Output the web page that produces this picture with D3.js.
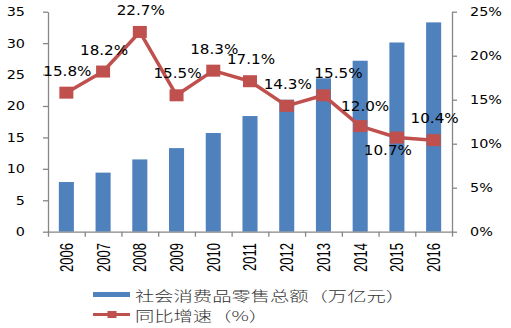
<!DOCTYPE html>
<html>
<head>
<meta charset="utf-8">
<script src="https://cdn.jsdelivr.net/npm/d3@7"></script>
<style>
  html, body { margin: 0; padding: 0; background: #fff; }
  svg { display: block; }
</style>
</head>
<body>
<div id="chart"></div>
<script>
// Retail sales of consumer goods (trillion yuan) and year-on-year growth (%)
const years = ["2006", "2007", "2008", "2009", "2010", "2011", "2012", "2013", "2014", "2015", "2016"];
const retailSales = [7.9, 9.4, 11.5, 13.3, 15.7, 18.4, 21.0, 24.4, 27.2, 30.1, 33.3];
const growthRate = [15.8, 18.2, 22.7, 15.5, 18.3, 17.1, 14.3, 15.5, 12.0, 10.7, 10.4];
const leftTicks = [0, 5, 10, 15, 20, 25, 30, 35];
const rightTicks = [0, 5, 10, 15, 20, 25];
const legendLabels = ["社会消费品零售总额（万亿元）", "同比增速（%）"];

const W = 511, H = 328;
const plot = { left: 48, right: 452, top: 11.7, bottom: 231.7 };
const barColor = "#4F81BD", lineColor = "#C0504D", axisColor = "#868686";
const numFont = "'DejaVu Sans', Verdana, sans-serif";

const svg = d3.select("#chart").append("svg").attr("width", W).attr("height", H);

const x = d3.scaleBand().domain(years).range([plot.left, plot.right])
  .paddingInner(0.59).paddingOuter(0.295);
const cx = d => x(d) + x.bandwidth() / 2;
const slots = d3.scaleLinear().domain([0, years.length]).range([plot.left, plot.right]);
const yL = d3.scaleLinear().domain([0, 35]).range([plot.bottom, plot.top]);
const yR = d3.scaleLinear().domain([0, 25]).range([plot.bottom, plot.top]);

// Bars
svg.append("g").selectAll("rect").data(years).join("rect")
  .attr("x", d => x(d))
  .attr("width", x.bandwidth())
  .attr("y", (d, i) => yL(retailSales[i]))
  .attr("height", (d, i) => yL(0) - yL(retailSales[i]))
  .attr("fill", barColor);

function styleAxis(g) {
  g.selectAll(".domain").attr("stroke", axisColor).attr("stroke-width", 1.3);
  g.selectAll(".tick line").attr("stroke", axisColor).attr("stroke-width", 1.3);
}

// Left axis
const gL = svg.append("g").attr("transform", `translate(${plot.left},0)`)
  .call(d3.axisLeft(yL).tickValues(leftTicks).tickSize(5).tickSizeOuter(0));
styleAxis(gL);
gL.selectAll(".tick text")
  .attr("x", null)
  .attr("transform", "translate(-23,0) scale(1.15,1)")
  .attr("font-family", numFont).attr("font-size", 12.5).attr("fill", "#000");

// Right axis
const gR = svg.append("g").attr("transform", `translate(${plot.right},0)`)
  .call(d3.axisRight(yR).tickValues(rightTicks).tickSize(5).tickSizeOuter(0)
    .tickFormat(d => d + "%"));
styleAxis(gR);
gR.selectAll(".tick text")
  .attr("x", null)
  .attr("transform", "translate(18,0) scale(1.15,1)")
  .attr("font-family", numFont).attr("font-size", 12.5).attr("fill", "#000");

// Bottom axis: ticks at category boundaries
const gB = svg.append("g").attr("transform", `translate(0,${plot.bottom})`)
  .call(d3.axisBottom(slots).ticks(years.length).tickSize(5).tickSizeOuter(0).tickFormat(""));
styleAxis(gB);

// Rotated year labels
svg.append("g").selectAll("text").data(years).join("text")
  .attr("transform", d => `translate(${cx(d)},243) scale(1.42,1) rotate(-90)`)
  .attr("text-anchor", "end")
  .attr("dy", "0.35em")
  .attr("font-family", "'Liberation Sans', Arial, sans-serif")
  .attr("font-size", 13)
  .attr("fill", "#000")
  .text(d => d);

// Growth line with square markers
const line = d3.line().x(d => cx(d)).y((d, i) => yR(growthRate[i]));
svg.append("path").datum(years)
  .attr("d", line)
  .attr("fill", "none")
  .attr("stroke", lineColor)
  .attr("stroke-width", 3.5)
  .attr("stroke-linejoin", "round");

const mw = 14, mh = 12;
svg.append("g").selectAll("rect").data(years).join("rect")
  .attr("x", d => cx(d) - mw / 2)
  .attr("y", (d, i) => yR(growthRate[i]) - mh / 2)
  .attr("width", mw).attr("height", mh)
  .attr("fill", lineColor);

// Value labels (placed above the marker unless shifted to avoid overlaps)
const labelShift = { "2013": [15, -22], "2014": [5, -20], "2015": [-9, 12] };
svg.append("g").selectAll("text").data(years).join("text")
  .attr("transform", (d, i) => {
    const s = labelShift[d] || [1, -22];
    return `translate(${cx(d) + s[0]},${yR(growthRate[i]) + s[1]}) scale(1.1,1)`;
  })
  .attr("text-anchor", "middle")
  .attr("dy", "0.36em")
  .attr("font-family", numFont)
  .attr("font-size", 13.8)
  .attr("fill", "#000")
  .text((d, i) => growthRate[i].toFixed(1) + "%");

// Legend
const lg = svg.append("g");
lg.append("rect").attr("x", 93).attr("y", 292).attr("width", 37).attr("height", 5)
  .attr("fill", barColor);
lg.append("line").attr("x1", 93).attr("x2", 130).attr("y1", 314.5).attr("y2", 314.5)
  .attr("stroke", lineColor).attr("stroke-width", 3);
lg.append("rect").attr("x", 107.5).attr("y", 311).attr("width", 9).attr("height", 7)
  .attr("fill", lineColor);
lg.selectAll("text").data(legendLabels).join("text")
  .attr("transform", (d, i) => `translate(135,${296.5 + i * 20}) scale(1.43,1)`)
  .attr("dy", "0.36em")
  .attr("font-family", "'Noto Sans CJK SC', sans-serif")
  .attr("font-weight", 300)
  .attr("font-size", 13.5)
  .attr("fill", "#333")
  .text(d => d);
</script>
</body>
</html>
